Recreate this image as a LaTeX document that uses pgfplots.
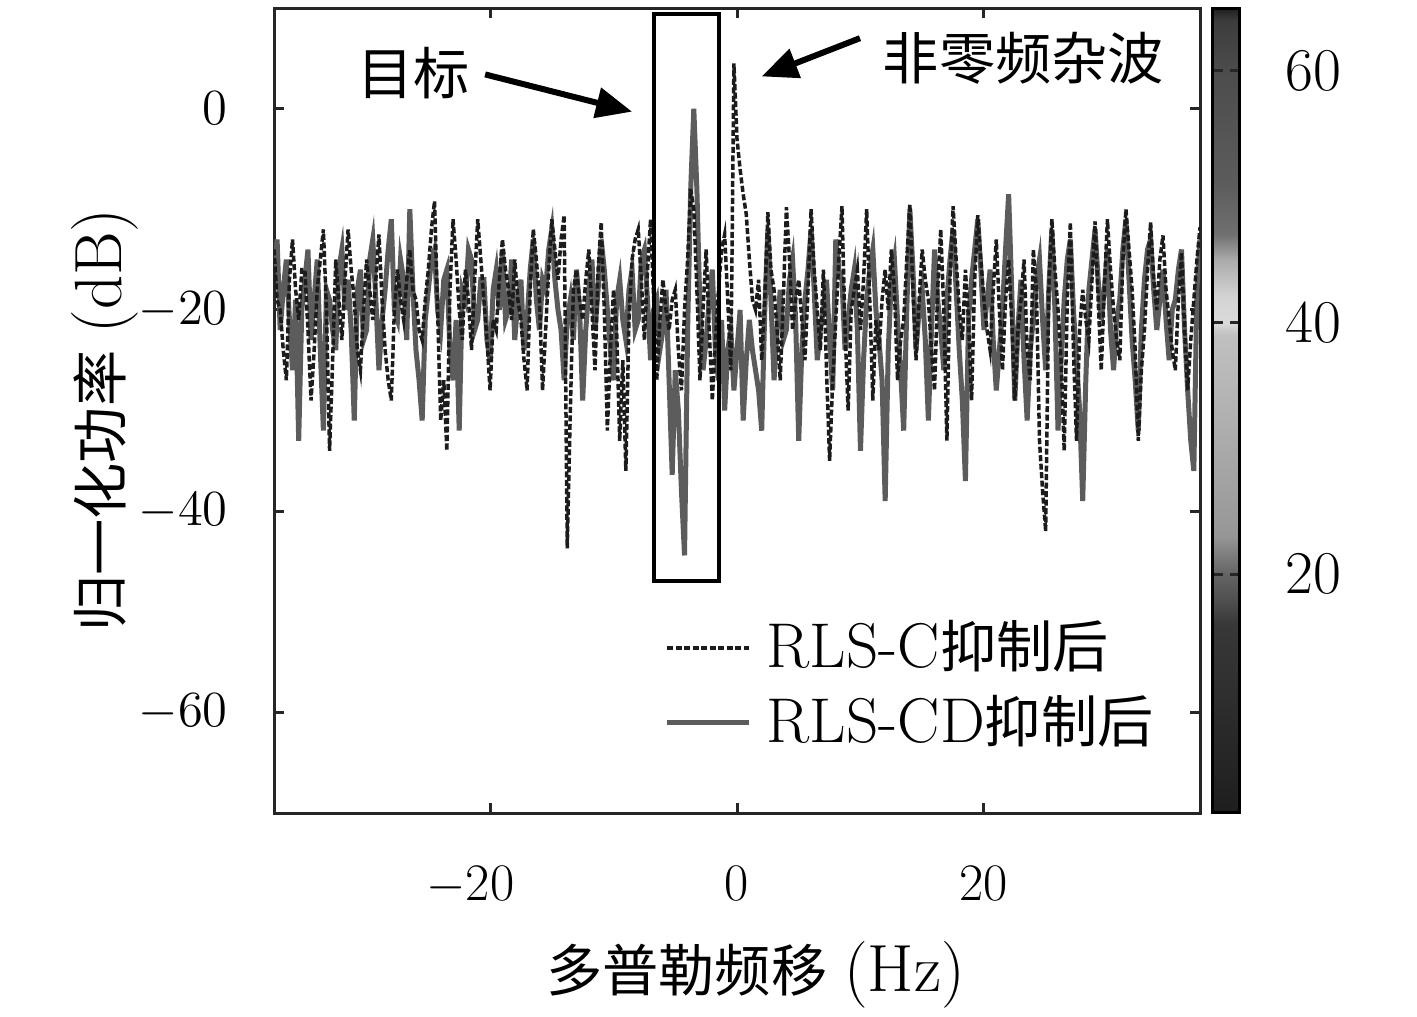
\documentclass[border=0pt]{standalone}
\usepackage{fontspec}
\usepackage{pgfplots}
\pgfplotsset{compat=1.18}
\usetikzlibrary{arrows.meta}
\newfontfamily\cjk{Noto Sans CJK SC}
\definecolor{sgray}{RGB}{92,92,92}
\definecolor{dblack}{RGB}{28,28,28}

\begin{document}
\fontsize{16}{19}\selectfont
\begin{tikzpicture}
\begin{axis}[
  name=ax,
  scale only axis, width=92.6mm, height=80.5mm,
  xmin=-37.5, xmax=37.5, ymin=-70, ymax=10,
  xtick={-20,0,20}, ytick={-60,-40,-20,0},
  xticklabels={{\llap{$-$}20},0,20},
  tick align=inside, major tick length=1mm,
  axis line style={line width=0.3mm, black!85},
  every tick/.style={line width=0.3mm, black!85},
  tick label style={font=\fontsize{15}{18}\selectfont},
  xticklabel style={yshift=-3.3mm},
  yticklabel style={xshift=-2.7mm},
  xlabel={{\cjk 多普勒频移} {\fontsize{19}{22}\selectfont (Hz)}},
  ylabel={{\cjk 归一化功率} {\fontsize{19}{22}\selectfont (dB)}},
  xlabel style={at={(axis description cs:0.52,-0.2012)}, anchor=center},
  ylabel style={at={(axis description cs:-0.1825,0.488)}, anchor=center},
  colormap={cb}{rgb255(1pt)=(30,30,30); rgb255(16pt)=(56,56,56); rgb255(18pt)=(80,80,80);
    rgb255(20pt)=(100,100,100); rgb255(23pt)=(150,150,150); rgb255(32pt)=(175,175,175);
    rgb255(39pt)=(192,192,192); rgb255(40pt)=(218,218,218); rgb255(42pt)=(212,212,212);
    rgb255(45pt)=(170,170,170); rgb255(47pt)=(112,112,112); rgb255(51pt)=(92,92,92);
    rgb255(60pt)=(76,76,76); rgb255(64pt)=(60,60,60); rgb255(65pt)=(30,30,30)},
  colorbar,
  point meta min=1, point meta max=65,
  colorbar style={width=2.7mm, at={(1.014,1)}, anchor=north west,
    ytick={20,40,60}, yticklabel style={xshift=2.6mm, font=\fontsize{16}{19}\selectfont},
    axis line style={line width=0.3mm, black}, major tick length=1mm},
  legend style={draw=none, fill=none, at={(axis description cs:0.41,0.258)},
    anchor=north west, row sep=0.5mm},
  legend cell align=left,
  legend image code/.code={\draw[#1] (0mm,0mm) -- (8.2mm,0mm); \path (9mm,0mm);},
]
\addlegendimage{dblack, line width=0.35mm, dash pattern=on 0.6mm off 0.25mm}
\addlegendentry{{\fontsize{18}{21}\selectfont RLS-C}{\fontsize{16}{19}\selectfont\cjk 抑制后}}
\addlegendimage{sgray, line width=0.5mm}
\addlegendentry{{\fontsize{18}{21}\selectfont RLS-CD}{\fontsize{16}{19}\selectfont\cjk 抑制后}}

% RLS-CD
\addplot[sgray, line width=0.5mm, forget plot] coordinates {
(-37.5,-16)(-37.25,-13)(-37.0,-22)(-36.75,-18)(-36.5,-15)(-36.25,-21)(-36.0,-26)(-35.75,-19)
(-35.5,-33)(-35.25,-20)(-35.0,-17)(-34.75,-14)(-34.5,-23)(-34.25,-19)(-34.0,-15)(-33.75,-24)
(-33.5,-32)(-33.25,-18)(-33.0,-19)(-32.75,-22)(-32.5,-24)(-32.25,-16)(-32.0,-14)(-31.75,-20)
(-31.5,-17)(-31.25,-22)(-31.0,-31)(-30.75,-18)(-30.5,-16)(-30.25,-23)(-30.0,-22)(-29.75,-15)
(-29.5,-13)(-29.25,-19)(-29.0,-26)(-28.75,-21)(-28.5,-18)(-28.25,-14)(-28.0,-11)(-27.75,-20)
(-27.5,-21)(-27.25,-15)(-27.0,-17)(-26.75,-23)(-26.5,-10)(-26.25,-18)(-26.0,-24)(-25.75,-27)
(-25.5,-31)(-25.25,-21)(-25.0,-18)(-24.75,-15)(-24.5,-14)(-24.25,-20)(-24.0,-22)(-23.75,-17)
(-23.5,-16)(-23.25,-24)(-23.0,-27)(-22.75,-21)(-22.5,-32)(-22.25,-18)(-22.0,-19)(-21.75,-14)
(-21.5,-15)(-21.25,-22)(-21.0,-21)(-20.75,-17)(-20.5,-17)(-20.25,-23)(-20.0,-25)(-19.75,-18)
(-19.5,-16)(-19.25,-20)(-19.0,-14)(-18.75,-21)(-18.5,-20)(-18.25,-15)(-18.0,-23)(-17.75,-19)
(-17.5,-17)(-17.25,-24)(-17.0,-21)(-16.75,-16)(-16.5,-13)(-16.25,-19)(-16.0,-22)(-15.75,-17)
(-15.5,-18)(-15.25,-14)(-15.0,-12)(-14.75,-17)(-14.5,-20)(-14.25,-22)(-14.0,-27)(-13.75,-21)
(-13.5,-19)(-13.25,-23)(-13.0,-16)(-12.75,-20)(-12.5,-29)(-12.25,-22)(-12.0,-18)(-11.75,-15)
(-11.5,-22)(-11.25,-18)(-11.0,-13)(-10.75,-16)(-10.5,-20)(-10.25,-24)(-10.0,-27)(-9.75,-19)
(-9.5,-17)(-9.25,-21)(-9.0,-23)(-8.75,-18)(-8.5,-16)(-8.25,-22)(-8.0,-21)(-7.75,-15)
(-7.5,-14)(-7.25,-19)(-7.0,-25)(-6.75,-20)(-6.5,-19)(-6.25,-24)(-6.0,-22)(-5.75,-18)
(-5.5,-27)(-5.25,-36.4)(-5.0,-26)(-4.75,-30)(-4.5,-38)(-4.25,-44.4)(-4.0,-22)(-3.75,-8)
(-3.5,0)(-3.25,-8)(-3.0,-20)(-2.75,-26)(-2.5,-23)(-2.25,-19)(-2.0,-16)(-1.75,-24)
(-1.5,-27)(-1.25,-21)(-1.0,-30)(-0.75,-24)(-0.5,-22)(-0.25,-28)(0.0,-24)(0.25,-20)
(0.5,-31)(0.75,-25)(1.0,-21)(1.25,-24)(1.5,-26)(1.75,-28)(2.0,-32)(2.25,-20)
(2.5,-12)(2.75,-19)(3.0,-27)(3.25,-22)(3.5,-18)(3.75,-23)(4.0,-22)(4.25,-17)
(4.5,-15)(4.75,-21)(5.0,-33)(5.25,-24)(5.5,-19)(5.75,-16)(6.0,-12)(6.25,-18)
(6.5,-25)(6.75,-22)(7.0,-20)(7.25,-17)(7.5,-23)(7.75,-28)(8.0,-13)(8.25,-16)
(8.5,-17)(8.75,-24)(9.0,-21)(9.25,-18)(9.5,-16)(9.75,-22)(10.0,-34)(10.25,-25)
(10.5,-19)(10.75,-16)(11.0,-14)(11.25,-20)(11.5,-23)(11.75,-27)(12.0,-39)(12.25,-24)
(12.5,-17)(12.75,-15)(13.0,-21)(13.25,-26)(13.5,-32)(13.75,-20)(14.0,-10)(14.25,-16)
(14.5,-24)(14.75,-20)(15.0,-18)(15.25,-23)(15.5,-31)(15.75,-22)(16.0,-14)(16.25,-19)
(16.5,-22)(16.75,-26)(17.0,-19)(17.25,-15)(17.5,-12)(17.75,-18)(18.0,-24)(18.25,-29)
(18.5,-37)(18.75,-21)(19.0,-17)(19.25,-14)(19.5,-11)(19.75,-16)(20.0,-22)(20.25,-19)
(20.5,-16)(20.75,-23)(21.0,-28)(21.25,-24)(21.5,-20)(21.75,-14)(22.0,-8.5)(22.25,-18)
(22.5,-29)(22.75,-22)(23.0,-17)(23.25,-25)(23.5,-31)(23.75,-24)(24.0,-21)(24.25,-17)
(24.5,-15)(24.75,-21)(25.0,-26)(25.25,-18)(25.5,-12)(25.75,-20)(26.0,-32)(26.25,-25)
(26.5,-19)(26.75,-15)(27.0,-13)(27.25,-20)(27.5,-25)(27.75,-30)(28.0,-39)(28.25,-27)
(28.5,-18)(28.75,-15)(29.0,-12)(29.25,-17)(29.5,-21)(29.75,-18)(30.0,-14)(30.25,-22)
(30.5,-26)(30.75,-21)(31.0,-19)(31.25,-14)(31.5,-11)(31.75,-17)(32.0,-23)(32.25,-27)
(32.5,-32)(32.75,-22)(33.0,-17)(33.25,-14)(33.5,-13)(33.75,-18)(34.0,-22)(34.25,-19)
(34.5,-16)(34.75,-21)(35.0,-25)(35.25,-20)(35.5,-19)(35.75,-16)(36.0,-14)(36.25,-22)
(36.5,-28)(36.75,-33)(37.0,-36)(37.25,-18)(37.5,-13)
};
% RLS-C
\addplot[dblack, line width=0.35mm, dash pattern=on 0.6mm off 0.25mm, forget plot] coordinates {
(-37.5,-14)(-37.25,-19)(-37.0,-20)(-36.75,-24)(-36.5,-27)(-36.25,-17)(-36.0,-13)(-35.75,-18)
(-35.5,-21)(-35.25,-16)(-35.0,-16)(-34.75,-22)(-34.5,-29)(-34.25,-24)(-34.0,-18)(-33.75,-15)
(-33.5,-12)(-33.25,-20)(-33.0,-34)(-32.75,-25)(-32.5,-15)(-32.25,-19)(-32.0,-23)(-31.75,-17)
(-31.5,-12)(-31.25,-16)(-31.0,-19)(-30.75,-24)(-30.5,-26)(-30.25,-20)(-30.0,-15)(-29.75,-18)
(-29.5,-21)(-29.25,-17)(-29.0,-12.5)(-28.75,-19)(-28.5,-24)(-28.25,-27)(-28.0,-29)(-27.75,-20)
(-27.5,-16)(-27.25,-19)(-27.0,-21)(-26.75,-17)(-26.5,-14)(-26.25,-18)(-26.0,-19)(-25.75,-22)
(-25.5,-23)(-25.25,-19)(-25.0,-16)(-24.75,-12)(-24.5,-9.2)(-24.25,-20)(-24.0,-31)(-23.75,-27)
(-23.5,-34)(-23.25,-18)(-23.0,-11)(-22.75,-15)(-22.5,-20)(-22.25,-23)(-22.0,-16)(-21.75,-19)
(-21.5,-24)(-21.25,-17)(-21.0,-11)(-20.75,-15)(-20.5,-19)(-20.25,-23)(-20.0,-28)(-19.75,-21)
(-19.5,-22)(-19.25,-17)(-19.0,-13)(-18.75,-16)(-18.5,-18)(-18.25,-21)(-18.0,-15)(-17.75,-19)
(-17.5,-21)(-17.25,-25)(-17.0,-28)(-16.75,-18)(-16.5,-12)(-16.25,-15)(-16.0,-19)(-15.75,-28)
(-15.5,-22)(-15.25,-16)(-15.0,-11)(-14.75,-14)(-14.5,-17)(-14.25,-13)(-14.0,-10.6)(-13.75,-43.7)
(-13.5,-30)(-13.25,-18)(-13.0,-16)(-12.75,-19)(-12.5,-21)(-12.25,-17)(-12.0,-14)(-11.75,-20)
(-11.5,-26)(-11.25,-16)(-11.0,-11.3)(-10.75,-20)(-10.5,-32)(-10.25,-24)(-10.0,-18)(-9.75,-22)
(-9.5,-33)(-9.25,-25)(-9.0,-36)(-8.75,-21)(-8.5,-15)(-8.25,-13)(-8.0,-12)(-7.75,-17)
(-7.5,-23)(-7.25,-16)(-7.0,-11)(-6.75,-19)(-6.5,-27)(-6.25,-21)(-6.0,-17)(-5.75,-20)
(-5.5,-22)(-5.25,-19)(-5.0,-18)(-4.75,-24)(-4.5,-28)(-4.25,-20)(-4.0,-15)(-3.75,-8)
(-3.5,-10)(-3.25,-18)(-3.0,-27)(-2.75,-20)(-2.5,-14)(-2.25,-22)(-2.0,-29)(-1.75,-23)
(-1.5,-18)(-1.25,-14)(-1.0,-12.5)(-0.75,-19)(-0.5,-26)(-0.25,4.5)(0.0,-3)(0.25,-6)
(0.5,-8.5)(0.75,-10.5)(1.0,-15)(1.25,-19)(1.5,-20)(1.75,-17)(2.0,-25)(2.25,-19)
(2.5,-10.3)(2.75,-16)(3.0,-18)(3.25,-22)(3.5,-27)(3.75,-19)(4.0,-9.8)(4.25,-15)
(4.5,-22)(4.75,-19)(5.0,-17)(5.25,-21)(5.5,-25)(5.75,-18)(6.0,-10)(6.25,-16)
(6.5,-20)(6.75,-24)(7.0,-16)(7.25,-26)(7.5,-35)(7.75,-27)(8.0,-21)(8.25,-15)
(8.5,-9.7)(8.75,-22)(9.0,-30)(9.25,-20)(9.5,-18)(9.75,-16)(10.0,-22)(10.25,-17)
(10.5,-10)(10.75,-19)(11.0,-29)(11.25,-21)(11.5,-24)(11.75,-19)(12.0,-16)(12.25,-20)
(12.5,-14)(12.75,-18)(13.0,-27)(13.25,-23)(13.5,-21)(13.75,-15)(14.0,-9.5)(14.25,-18)
(14.5,-25)(14.75,-19)(15.0,-14)(15.25,-17)(15.5,-19)(15.75,-24)(16.0,-28)(16.25,-18)
(16.5,-12)(16.75,-20)(17.0,-33)(17.25,-17)(17.5,-9.7)(17.75,-15)(18.0,-20)(18.25,-23)
(18.5,-16)(18.75,-21)(19.0,-29)(19.25,-17)(19.5,-10.6)(19.75,-15)(20.0,-19)(20.25,-22)
(20.5,-24)(20.75,-18)(21.0,-13)(21.25,-20)(21.5,-26)(21.75,-19)(22.0,-15)(22.25,-21)
(22.5,-29)(22.75,-22)(23.0,-19)(23.25,-15)(23.5,-24)(23.75,-27)(24.0,-14)(24.25,-18)
(24.5,-33)(24.75,-38)(25.0,-42)(25.25,-18)(25.5,-11)(25.75,-16)(26.0,-20)(26.25,-25)
(26.5,-34)(26.75,-19)(27.0,-11.3)(27.25,-24)(27.5,-33)(27.75,-22)(28.0,-18)(28.25,-21)
(28.5,-23)(28.75,-17)(29.0,-11.2)(29.25,-19)(29.5,-26)(29.75,-18)(30.0,-11)(30.25,-16)
(30.5,-20)(30.75,-23)(31.0,-25)(31.25,-15)(31.5,-10)(31.75,-14)(32.0,-18)(32.25,-24)
(32.5,-33)(32.75,-26)(33.0,-22)(33.25,-16)(33.5,-11.3)(33.75,-17)(34.0,-20)(34.25,-15)
(34.5,-12.6)(34.75,-18)(35.0,-21)(35.25,-24)(35.5,-26)(35.75,-19)(36.0,-14.3)(36.25,-22)
(36.5,-28)(36.75,-23)(37.0,-19)(37.25,-15)(37.5,-11.8)
};

\draw[line width=0.4mm, black] (axis cs:-6.72,9.37) rectangle (axis cs:-1.46,-46.96);
\draw[line width=0.6mm, -{Triangle[length=3.6mm,width=3mm]}] (axis cs:-20.4,3.4) -- (axis cs:-8.5,-0.3);
\draw[line width=0.6mm, -{Triangle[length=3.6mm,width=3mm]}] (axis cs:9.96,7.0) -- (axis cs:2.0,3.2);
\node at (axis cs:-26.2,3.5) {\cjk 目标};
\node at (axis cs:23.2,5.0) {\cjk 非零频杂波};
\end{axis}
\pgfresetboundingbox
\path ([shift={(-27.4mm,-20.3mm)}]ax.south west) rectangle ([shift={(21.7mm,0.8mm)}]ax.north east);
\end{tikzpicture}
\end{document}
